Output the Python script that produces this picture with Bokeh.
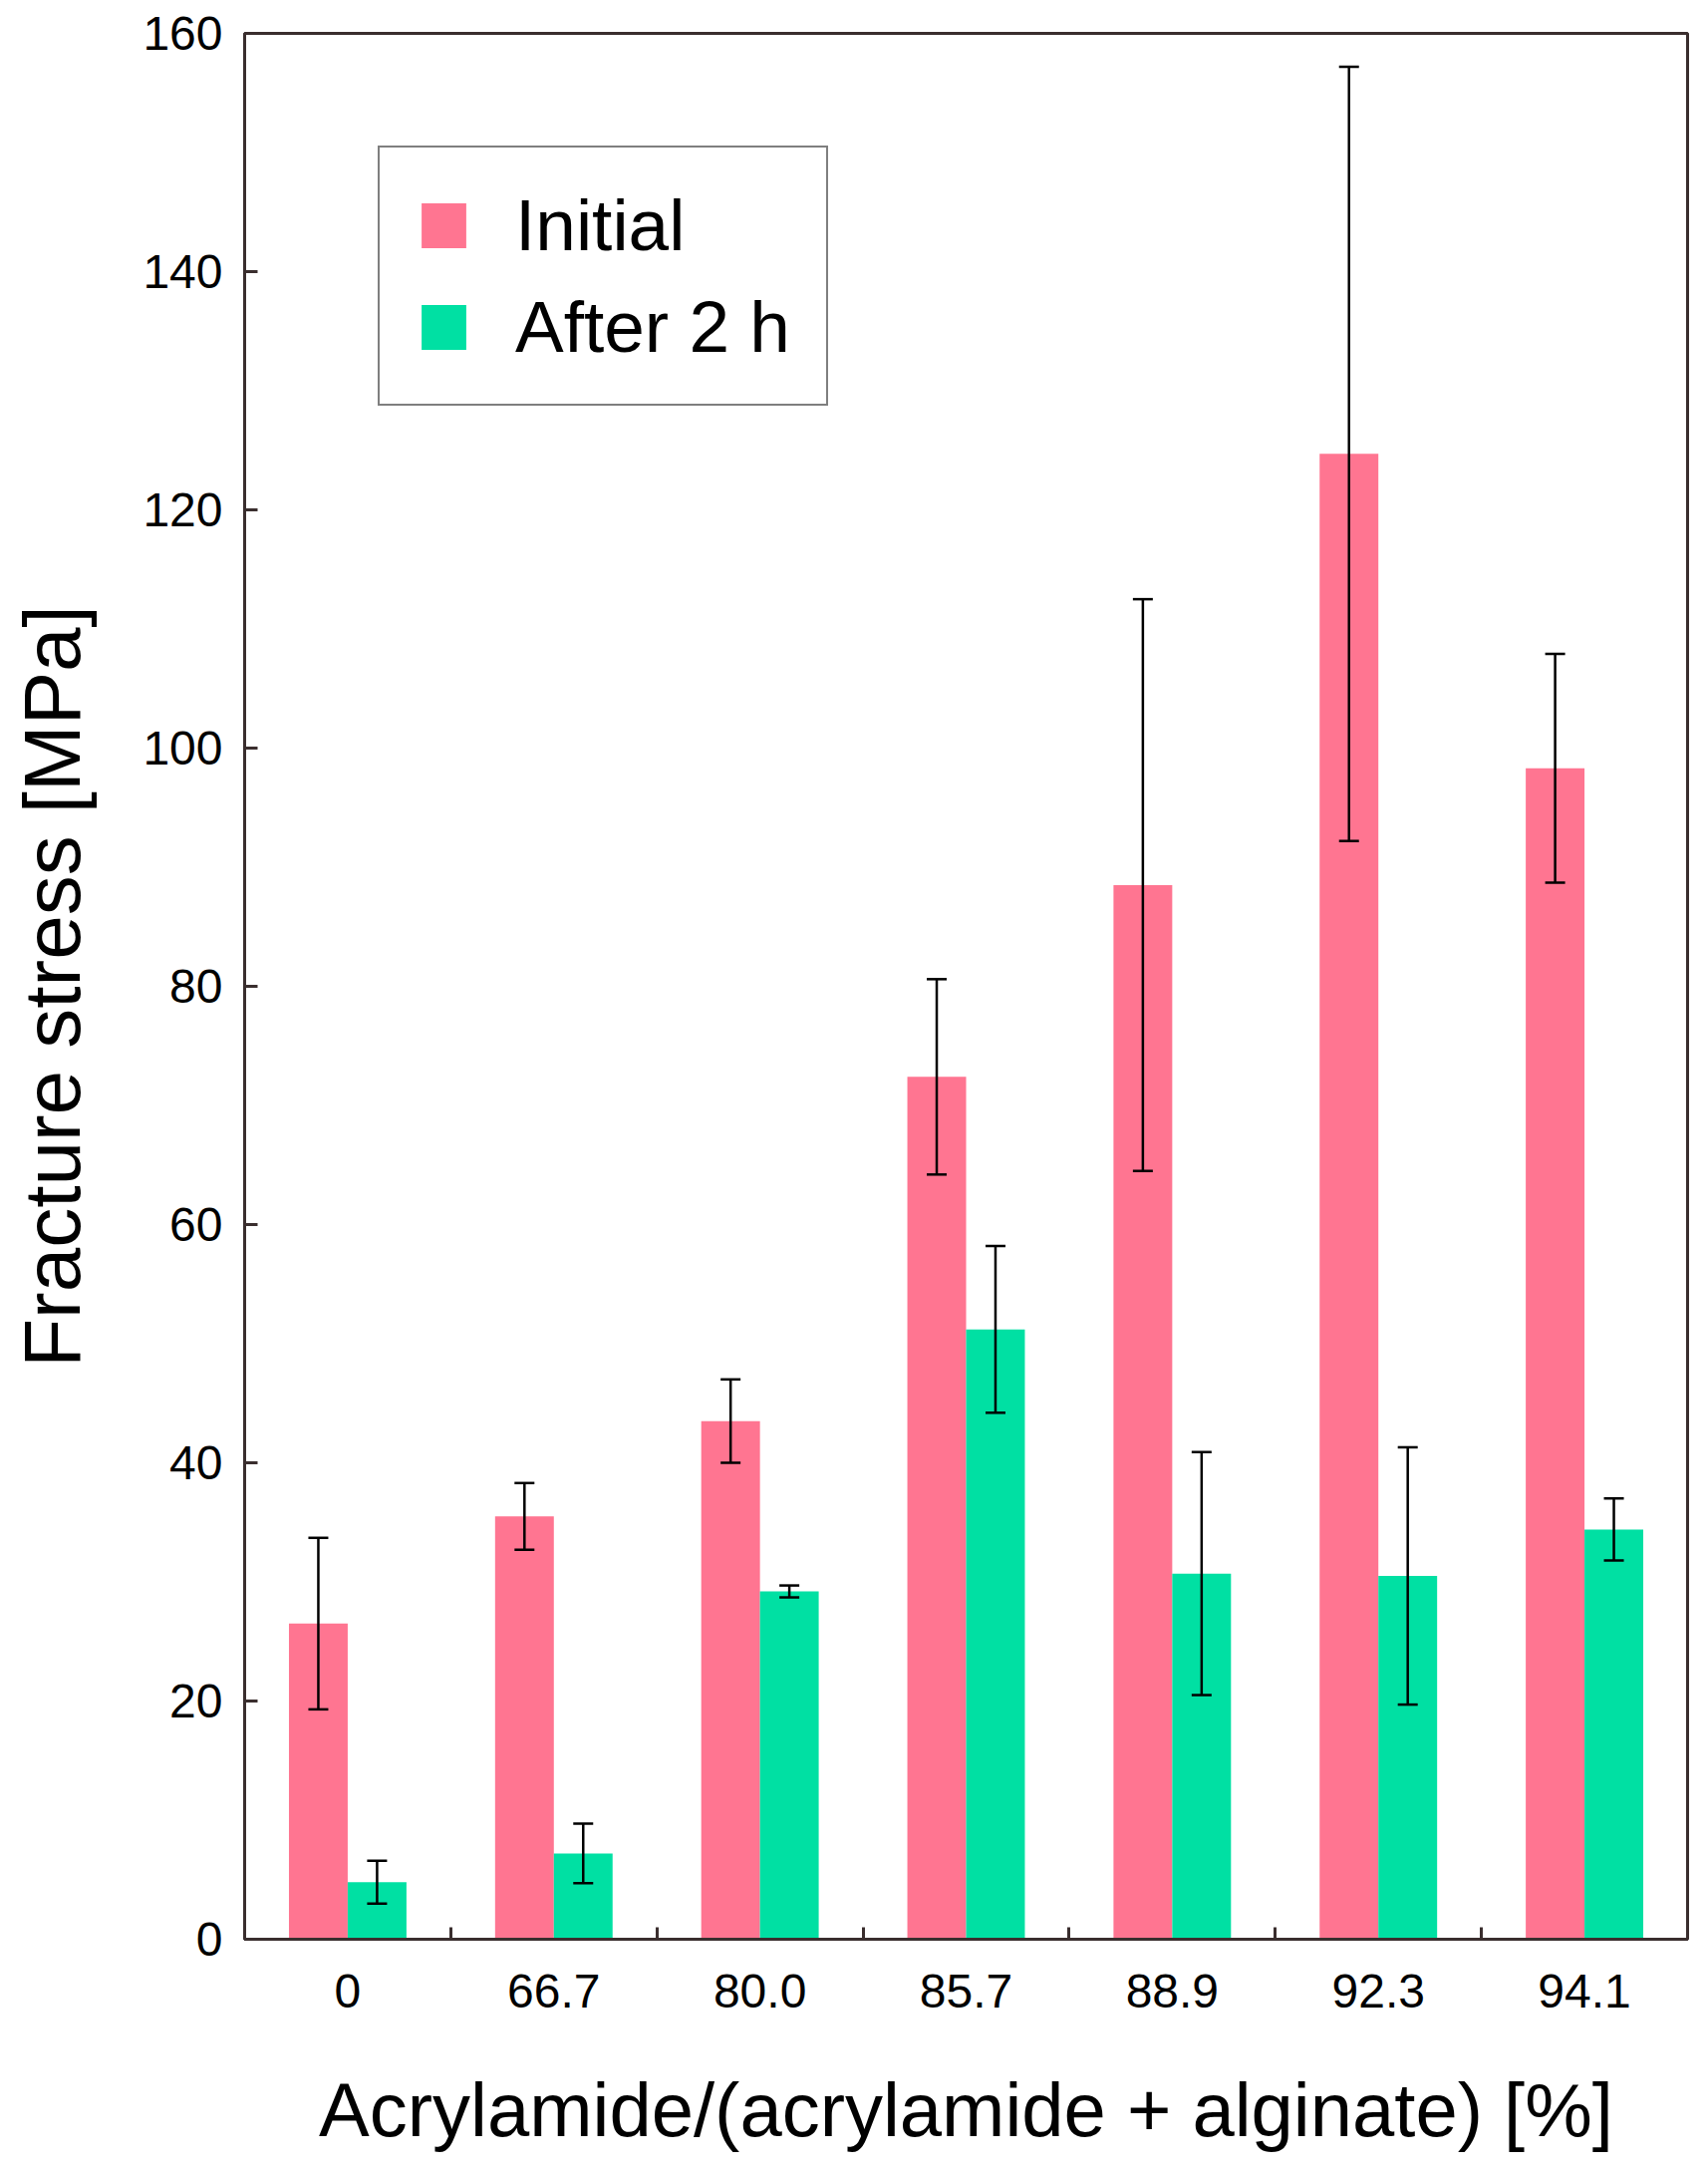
import numpy as np
from bokeh.plotting import figure
from bokeh.models import (ColumnDataSource, Range1d, FixedTicker, Whisker, TeeHead,
                          Legend, LegendItem)
from bokeh.embed import file_html
from bokeh.resources import INLINE

# ---- data ----
categories = ["0", "66.7", "80.0", "85.7", "88.9", "92.3", "94.1"]
initial = [26.5, 35.5, 43.5, 72.4, 88.5, 124.7, 98.3]
initial_err = [7.2, 2.8, 3.5, 8.2, 24.0, 32.5, 9.6]
after = [4.8, 7.2, 29.2, 51.2, 30.7, 30.5, 34.4]
after_err = [1.8, 2.5, 0.5, 7.0, 10.2, 10.8, 2.6]
y_ticks = [0, 20, 40, 60, 80, 100, 120, 140, 160]
series_labels = ["Initial", "After 2 h"]
x_title = "Acrylamide/(acrylamide + alginate) [%]"
y_title = "Fracture stress [MPa]"

PINK = "#FF7591"
GREEN = "#00E0A3"
AXIS = "#3a2e2e"
FONT = "Liberation Sans"
BAR_W = 0.285
OFF = BAR_W / 2

n = len(categories)
centers = [i + 0.5 for i in range(n)]
src = ColumnDataSource(dict(
    xi=[c - OFF for c in centers],
    xa=[c + OFF for c in centers],
    initial=initial,
    after=after,
    ilo=[v - e for v, e in zip(initial, initial_err)],
    ihi=[v + e for v, e in zip(initial, initial_err)],
    alo=[v - e for v, e in zip(after, after_err)],
    ahi=[v + e for v, e in zip(after, after_err)],
))

p = figure(width=1706, height=2170, output_backend="svg", toolbar_location=None,
           x_range=Range1d(0, n), y_range=Range1d(0, 160),
           min_border_left=245, min_border_right=13, min_border_top=33,
           min_border_bottom=225, background_fill_color="white",
           border_fill_color="white")
p.grid.visible = False
p.outline_line_color = AXIS
p.outline_line_width = 3

r1 = p.vbar(x="xi", top="initial", width=BAR_W, source=src,
            fill_color=PINK, line_color=None)
r2 = p.vbar(x="xa", top="after", width=BAR_W, source=src,
            fill_color=GREEN, line_color=None)

for base, lo, hi in (("xi", "ilo", "ihi"), ("xa", "alo", "ahi")):
    w = Whisker(base=base, lower=lo, upper=hi, source=src, level="overlay",
                line_color="black", line_width=2.5,
                upper_head=TeeHead(size=20, line_color="black", line_width=2.5),
                lower_head=TeeHead(size=20, line_color="black", line_width=2.5))
    p.add_layout(w)

# x axis
xa = p.xaxis[0]
xa.ticker = FixedTicker(ticks=centers, minor_ticks=list(range(1, n)))
xa.major_label_overrides = {c: lab for c, lab in zip(centers, categories)}
xa.major_tick_in = 0
xa.major_tick_out = 0
xa.minor_tick_in = 12
xa.minor_tick_out = 0
xa.minor_tick_line_color = AXIS
xa.minor_tick_line_width = 3
xa.major_label_standoff = 35
xa.axis_label = x_title
xa.axis_label_standoff = 57
xa.axis_label_text_font_size = "76px"

# y axis
ya = p.yaxis[0]
ya.ticker = FixedTicker(ticks=y_ticks, minor_ticks=[])
ya.major_tick_in = 13
ya.major_tick_out = 0
ya.major_tick_line_color = AXIS
ya.major_tick_line_width = 3
ya.minor_tick_line_color = None
ya.major_label_standoff = 22
ya.axis_label = y_title
ya.axis_label_standoff = 43
ya.axis_label_text_font_size = "80px"

for ax in (xa, ya):
    ax.axis_line_color = AXIS
    ax.axis_line_width = 3
    ax.major_label_text_font = FONT
    ax.major_label_text_font_size = "48px"
    ax.major_label_text_color = "black"
    ax.axis_label_text_font = FONT
    ax.axis_label_text_font_style = "normal"
    ax.axis_label_text_color = "black"

legend = Legend(items=[LegendItem(label=series_labels[0], renderers=[r1]),
                       LegendItem(label=series_labels[1], renderers=[r2])],
                location=(134, 1538), orientation="vertical",
                border_line_color="black", border_line_width=2.5,
                padding=36, spacing=19, label_standoff=44, margin=0,
                glyph_width=56, glyph_height=56,
                label_text_font=FONT, label_text_font_size="73px",
                label_text_color="black", background_fill_alpha=1.0)
p.add_layout(legend)

open("out.html", "w").write(file_html(p, INLINE))
